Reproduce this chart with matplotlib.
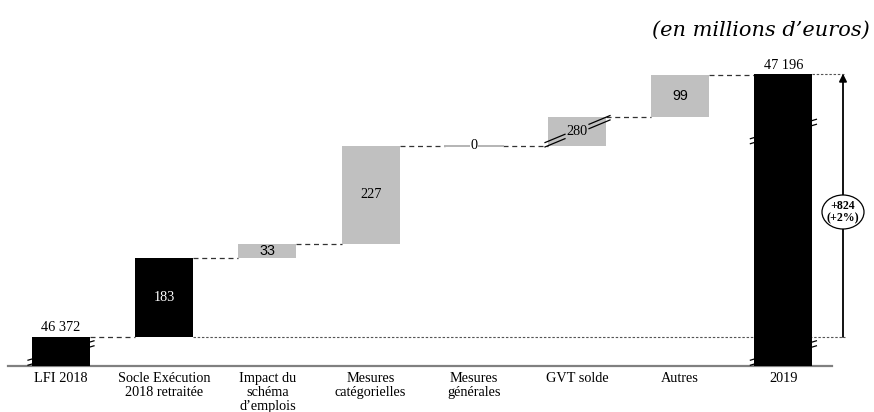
import numpy as np
import matplotlib
matplotlib.use("Agg")
import matplotlib.pyplot as plt
from matplotlib.patches import Ellipse
from matplotlib.transforms import ScaledTranslation

# ---- data (millions d'euros) ----
categories = ["LFI 2018", "Socle Exécution\n2018 retraitée", "Impact du\nschéma\nd\u2019emplois",
              "Mesures\ncatégorielles", "Mesures\ngénérales", "GVT solde", "Autres", "2019"]
start_total = 46372
steps = [183, 33, 227, 0, 280, 99]
step_dark = [True, False, False, False, False, False]
end_total = 47196

plt.rcParams["font.family"] = ["Liberation Serif", "DejaVu Serif"]
FS = 10.3

W, H, DPI = 874, 412, 100
fig = plt.figure(figsize=(W / DPI, H / DPI), dpi=DPI)

# axes geometry in pixels
AX_BOTTOM_PX = 366
AX_TOP_PX = 40
AX_H = AX_BOTTOM_PX - AX_TOP_PX
SPACING_PX = 103.2
FIRST_X_PX = 61
ax = fig.add_axes([0, (H - AX_BOTTOM_PX) / H, 1, AX_H / H])

# broken value axis: compressed base and compressed GVT segment
k = 0.432                       # pixels per million in the linear parts
gvt_lo = start_total + sum(steps[:4])
gvt_hi = gvt_lo + steps[4]
yk = np.array([-1000.0, 0.0, start_total, gvt_lo, gvt_hi, 60000.0])
u0 = 29.0
u1 = u0 + (gvt_lo - start_total) * k
u2 = u1 + 28.3
u3 = u2 + (60000.0 - gvt_hi) * k
uk = np.array([-1000.0 * u0 / start_total, 0.0, u0, u1, u2, u3])


def fwd(y):
    return np.interp(y, yk, uk)


def inv(u):
    return np.interp(u, uk, yk)


ax.set_yscale("function", functions=(fwd, inv))
ax.set_ylim(0, inv(AX_H))
ax.set_xlim(-FIRST_X_PX / SPACING_PX, (W - FIRST_X_PX) / SPACING_PX)

x = np.arange(len(categories))
bw = 58 / SPACING_PX
px = 1 / SPACING_PX
GREY = "#c0c0c0"
xt = ax.get_xaxis_transform()


def ufrac(u):
    return u / AX_H


def fmt(v):
    return f"{v:,}".replace(",", " ")


# baseline
ax.plot([-0.514, 7.47], [0, 0], color="#808080", lw=1.6, zorder=2, clip_on=False)

# first total
ax.bar(x[0], start_total, width=bw, bottom=0, color="black", zorder=3)
ax.annotate(fmt(start_total), (x[0], start_total), xytext=(0, 2), textcoords="offset points",
            ha="center", va="bottom", fontsize=FS)

# steps
level = start_total
for i, (v, dark) in enumerate(zip(steps, step_dark), start=1):
    bottom = level
    top = level + v
    if v == 0:
        ax.plot([x[i] - bw / 2, x[i] + bw / 2], [top, top], color="#b4b4b4", lw=1.4, zorder=3)
        ax.text(x[i], top, "0", ha="center", va="center", fontsize=FS, zorder=4,
                bbox=dict(facecolor="white", edgecolor="none", pad=0.3))
    else:
        ax.bar(x[i], v, width=bw, bottom=bottom, color="black" if dark else GREY, zorder=3)
        mid = inv((fwd(bottom) + fwd(top)) / 2)
        fam = ["Liberation Sans"] if v in (33, 99) else ["Liberation Serif"]
        ax.text(x[i], mid, str(v), ha="center", va="center", fontsize=FS,
                color="white" if dark else "black", family=fam, zorder=4)
    # dashed connector from previous bar to this one
    ax.plot([x[i - 1] + bw / 2, x[i] - bw / 2], [bottom, bottom], color="#333333",
            lw=0.9, dashes=(4, 3), zorder=2)
    level = top

# last total
ax.bar(x[-1], end_total, width=bw, bottom=0, color="black", zorder=3)
ax.annotate(fmt(end_total), (x[-1], end_total), xytext=(0, 1.2), textcoords="offset points",
            ha="center", va="bottom", fontsize=FS)
ax.plot([x[-2] + bw / 2, x[-1] - bw / 2], [level, level], color="#333333",
        lw=0.9, dashes=(4, 3), zorder=2)

# reference levels
arrow_x = x[-1] + (843 - 783.4) * px
ax.plot([x[1] + bw / 2, arrow_x + 2 * px], [start_total, start_total], color="#555555",
        lw=0.8, dashes=(2.2, 1.6), zorder=1)
ax.plot([x[-1] + bw / 2, arrow_x + 2 * px], [end_total, end_total], color="#555555",
        lw=0.8, dashes=(2.2, 1.6), zorder=1)

# growth arrow
ax.annotate("", xy=(arrow_x, end_total), xytext=(arrow_x, start_total),
            arrowprops=dict(arrowstyle="-|>", color="black", lw=1.3,
                            shrinkA=0, shrinkB=0, mutation_scale=11), zorder=5)
diff = end_total - start_total
pct = round(100 * diff / start_total)
lab_u = 154
ell_tr = fig.dpi_scale_trans + ScaledTranslation(arrow_x, ufrac(lab_u), xt)
ax.add_patch(Ellipse((0, 0), 0.42, 0.34, transform=ell_tr, facecolor="white",
                     edgecolor="black", lw=0.9, zorder=6, clip_on=False))
ax.text(arrow_x, ufrac(lab_u), f"+{diff}\n(+{pct}%)", transform=xt, ha="center", va="center",
        fontsize=8.6, fontweight="bold", linespacing=1.0, zorder=7)


# axis-break marks (pairs of short slanted strokes)
def break_pair(xc, uc, half=4, slope=0.3, gap=5):
    for off in (-gap / 2, gap / 2):
        ax.plot([xc - half * px, xc + half * px],
                [ufrac(uc + off - half * slope), ufrac(uc + off + half * slope)],
                transform=xt, color="black", lw=0.9, zorder=2, clip_on=False)


for xi in (x[0], x[-1]):
    break_pair(xi - bw / 2, 4.5)
    break_pair(xi + bw / 2, 21.5)
break_pair(x[-1] - bw / 2, 226)
break_pair(x[-1] + bw / 2, 243)

# GVT break: long double strokes across the bar, interrupted by the label
g_mid_u = (u1 + u2) / 2
slope = 27 / 65
for off in (-2.2, 2.2):
    for a, b in ((-32, -12), (12, 33)):
        ax.plot([x[5] + a * px, x[5] + b * px],
                [ufrac(g_mid_u + off + a * slope), ufrac(g_mid_u + off + b * slope)],
                transform=xt, color="black", lw=0.9, zorder=4)

# category axis
ax.set_xticks(x)
ax.set_xticklabels(categories, fontsize=FS, linespacing=1.12)
ax.tick_params(axis="x", length=0, pad=4)
ax.set_yticks([])
for s in ax.spines.values():
    s.set_visible(False)

fig.text(1 - 4 / W, 1 - 30 / H, "(en millions d\u2019euros)", ha="right", va="center",
         fontsize=15, style="italic", family=["DejaVu Serif"])

fig.savefig("out.png", dpi=DPI)
